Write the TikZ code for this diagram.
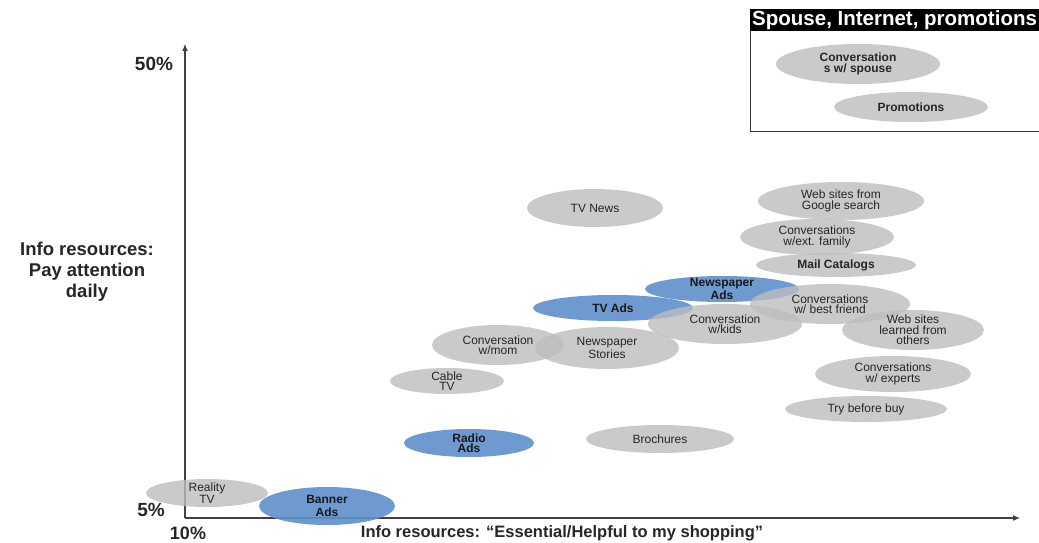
\documentclass[tikz,border=0pt]{standalone}
\usepackage{fontspec}
\setmainfont{Liberation Sans}
\usetikzlibrary{arrows.meta}
\definecolor{ellgray}{HTML}{BDBDBD}
\definecolor{ellblue}{HTML}{5F8FCB}
\definecolor{axisgray}{HTML}{404040}
\tikzset{
  grayell/.style={fill=ellgray,fill opacity=0.8},
  blueell/.style={fill=ellblue,fill opacity=0.9},
  graylbl/.style={align=center,inner sep=0pt,font=\fontsize{12}{10.5}\selectfont,text=black!85},
  bluelbl/.style={align=center,inner sep=0pt,font=\fontsize{12}{10.5}\selectfont\bfseries,text=black!90},
  axislbl/.style={inner sep=0pt,font=\fontsize{19}{21}\selectfont\bfseries,text=black!85},
  axisline/.style={draw=axisgray,line width=1.1pt,-{Latex[length=7pt,width=6pt]}}
}
\newcommand\mybubble[7]{%
  \path[#6ell] (#2,#3) ellipse [x radius=#4, y radius=#5];
  \node[#6lbl] (#1) at (#2,#3) {#7};}
\begin{document}
\begin{tikzpicture}[x=1pt,y=-1pt]
\useasboundingbox (0,0) rectangle (1039,543);
% stray cut-off glyph at top
\node[axislbl] (stray) at (68,-9) {y};
% axes
\coordinate (origin) at (185,518);
\coordinate (ytop) at (185,44);
\coordinate (xend) at (1020,518);
\draw[axisline] (origin) -- (ytop);
\draw[axisline] (origin) -- (xend);
\node[axislbl] (y50) at (154,64) {50\%};
\node[axislbl] (y5) at (151,510) {5\%};
\node[axislbl,font=\fontsize{18}{20}\selectfont\bfseries] (x10) at (188,533) {10\%};
\node[axislbl,font=\fontsize{16.5}{18}\selectfont\bfseries] (xlab) at (562,533.5) {Info resources: “Essential/Helpful to my shopping”};
\node[axislbl,align=center,font=\fontsize{18.5}{21}\selectfont\bfseries] (ylab) at (87,272) {Info resources:\\Pay attention\\daily};
% legend box
\draw[black!80,line width=0.8pt] (750,30) -- (750,131) -- (1045,131);
\fill[black] (750,9) rectangle (1045,31);
\node[inner sep=0pt,text=white,font=\fontsize{20.5}{22}\selectfont\bfseries,anchor=west] (legtitle) at (752,20) {Spouse, Internet, promotions};
\mybubble{spouse}{858}{64}{82}{20}{gray}{\textbf{Conversation}\\\textbf{s w/ spouse}}
\mybubble{promo}{911}{107}{77}{15}{gray}{\textbf{Promotions}}
% blue bubbles
\mybubble{npads}{722}{289}{77}{13}{blue}{Newspaper\\Ads}
\mybubble{tvads}{613}{308}{80}{13}{blue}{TV Ads}
\mybubble{radio}{469}{443}{65}{14}{blue}{Radio\\Ads}
\mybubble{banner}{327}{506}{68}{19}{blue}{Banner\\[3pt]Ads}
% gray bubbles
\mybubble{tvnews}{595}{208}{68}{19}{gray}{TV News}
\mybubble{google}{841}{201}{83}{19}{gray}{Web sites from\\Google search}
\mybubble{extfam}{817}{237}{77}{18}{gray}{Conversations\\w/ext. family}
\mybubble{mail}{836}{265}{80}{12}{gray}{\textbf{Mail Catalogs}}
\mybubble{friend}{830}{304}{80}{20}{gray}{Conversations\\w/ best friend}
\mybubble{kids}{725}{324}{77}{20}{gray}{Conversation\\w/kids}
\mybubble{learned}{913}{330}{71}{20}{gray}{Web sites\\learned from\\others}
\mybubble{mom}{498}{345}{66}{20}{gray}{Conversation\\w/mom}
\mybubble{npstories}{607}{348}{72}{21}{gray}{Newspaper\\Stories}
\mybubble{cable}{447}{381}{57}{13}{gray}{Cable\\TV}
\mybubble{experts}{893}{374}{78}{18}{gray}{Conversations\\w/ experts}
\mybubble{trybuy}{866}{409}{81}{13}{gray}{Try before buy}
\mybubble{brochures}{660}{439}{74}{14}{gray}{Brochures}
\mybubble{reality}{207}{493}{61}{14}{gray}{Reality\\TV}
\end{tikzpicture}
\end{document}
